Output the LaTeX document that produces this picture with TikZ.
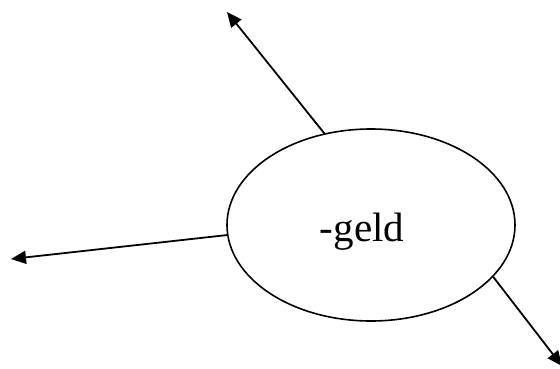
\documentclass[tikz,border=0pt]{standalone}
\usepackage{fontspec}
\setmainfont{Liberation Serif}
\usetikzlibrary{shapes.geometric,arrows.meta}
\tikzset{
  blob/.style={draw, ellipse, line width=1.6pt, minimum width=288pt, minimum height=192pt, inner sep=0pt},
  word/.style={font=\fontsize{41}{48}\selectfont, inner sep=0pt, anchor=base},
  conn/.style={line width=1.8pt, -{Triangle[length=15pt,width=13pt]}}
}
\begin{document}
\begin{tikzpicture}[x=1pt,y=-1pt]
\useasboundingbox (0,0) rectangle (560,369);
\node[blob] (e) at (371,225) {};
\node[word] (t) at (362,241) {-geld};
\coordinate (up) at (227,12);
\coordinate (lf) at (11,259);
\coordinate (dr) at (562,366);
\draw[conn] (e.117.3) -- (up);
\draw[conn] (e.184.4) -- (lf);
\draw[conn] (e.337.1) -- (dr);
\end{tikzpicture}
\end{document}
